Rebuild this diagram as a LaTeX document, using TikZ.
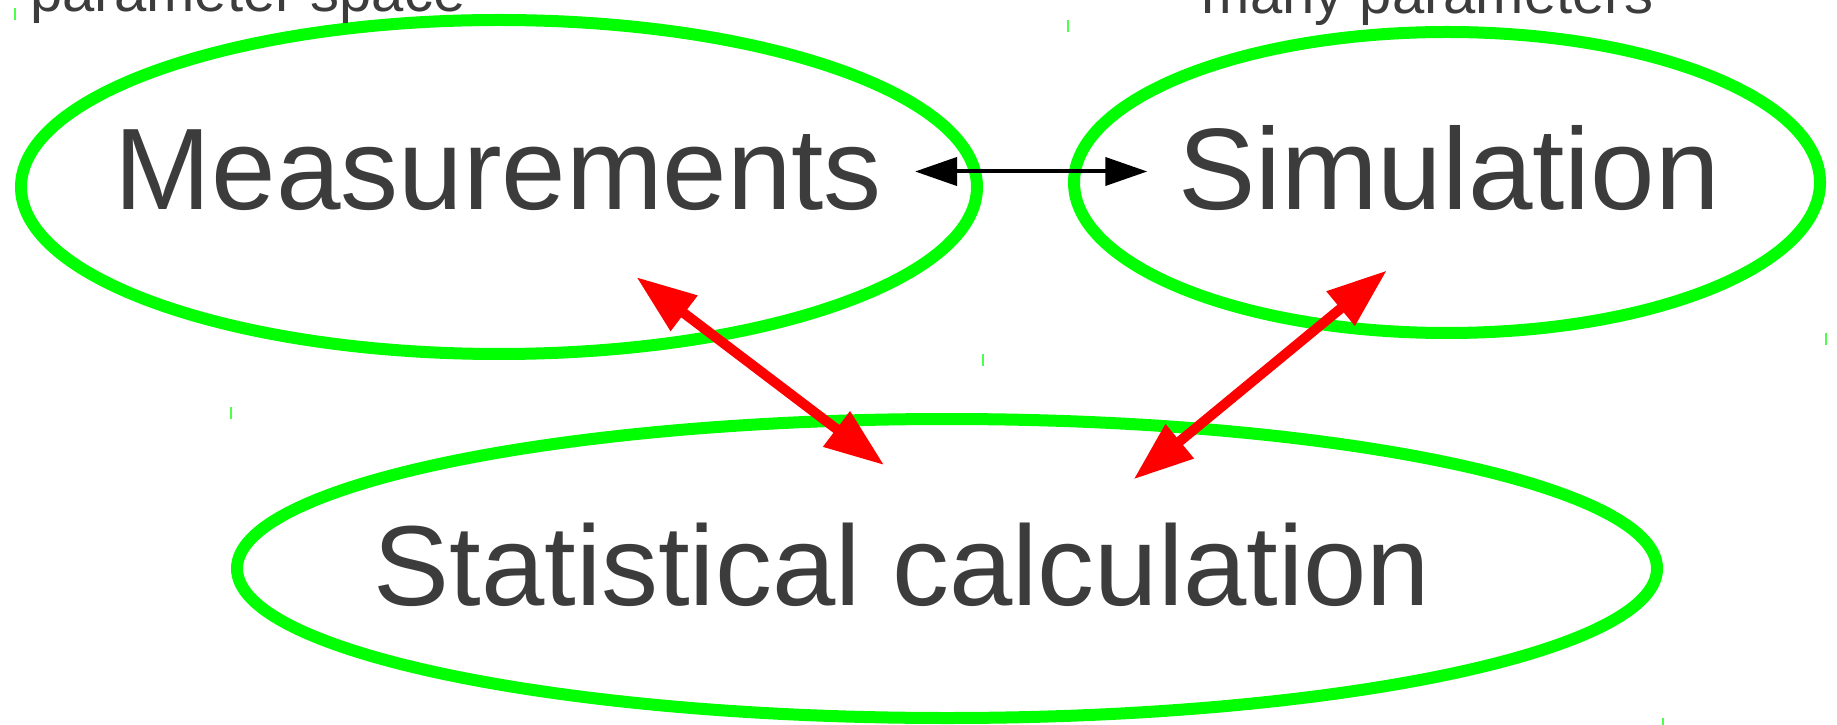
\documentclass[tikz,border=0pt]{standalone}
\usepackage{fontspec}
\setmainfont{Liberation Sans}
\usetikzlibrary{shapes.geometric,arrows.meta,positioning}
\definecolor{ringgreen}{RGB}{0,255,0}
\definecolor{linkred}{RGB}{255,0,0}
\definecolor{inkgray}{RGB}{60,60,60}

\begin{document}
\begin{tikzpicture}[
    ring/.style={ellipse, draw=ringgreen, line width=0.12cm, inner sep=0pt},
    title/.style={anchor=base, inner sep=0pt, outer sep=0pt, text height=0.83cm, text depth=0pt, text=inkgray, font=\fontsize{33}{40}\selectfont},
    note/.style={anchor=base, inner sep=0pt, text=inkgray, font=\fontsize{16.5}{20}\selectfont},
    cornertick/.style={draw=ringgreen!70, line width=0.02cm},
    swap/.style={{Triangle[length=0.42cm, width=0.28cm]}-{Triangle[length=0.42cm, width=0.28cm]}, line width=0.04cm, black},
    feed/.style={{Triangle[length=0.6cm, width=0.42cm]}-{Triangle[length=0.6cm, width=0.42cm]}, line width=0.1cm, linkred}
  ]
    \useasboundingbox (0,0) rectangle (18.37,-7.25);

    % Ellipses
    \node[ring, minimum width=9.56cm, minimum height=3.34cm] (measring) at (4.99,-1.87) {};
    \node[ring, minimum width=7.46cm, minimum height=3.01cm] (simring) at (14.47,-1.825) {};
    \node[ring, minimum width=14.2cm, minimum height=2.99cm] (statring) at (9.47,-5.685) {};

    % Labels
    \node[title] (meas) at (4.985,-2.10) {Measurements};
    \node[title] (sim) at (14.49,-2.10) {Simulation};
    \node[title, font=\fontsize{32.4}{40}\selectfont] (stat) at (9.02,-6.05) {Statistical calculation};
    \node[note] (space) at (2.48,-0.115) {parameter space};
    \node[note] (params) at (14.275,-0.14) {many parameters};

    % Box corner marks
    \foreach \r in {measring, simring, statring} {
      \draw[cornertick] (\r.west |- \r.north) ++(0,0.06) -- ++(0,-0.12);
      \draw[cornertick] (\r.east |- \r.south) ++(0,0.06) -- ++(0,-0.12);
    }

    % Connections
    \draw[swap, shorten <=0.33cm, shorten >=0.31cm] ([yshift=-0.03cm]meas.east) -- ([yshift=-0.03cm]sim.west);
    \draw[feed, shorten <=1.11cm, shorten >=0.94cm] (meas.-40) -- (stat.36.6);
    \draw[feed, shorten <=0.95cm, shorten >=0.67cm] (sim.-75.2) -- (stat.13.5);
  \end{tikzpicture}
\end{document}
